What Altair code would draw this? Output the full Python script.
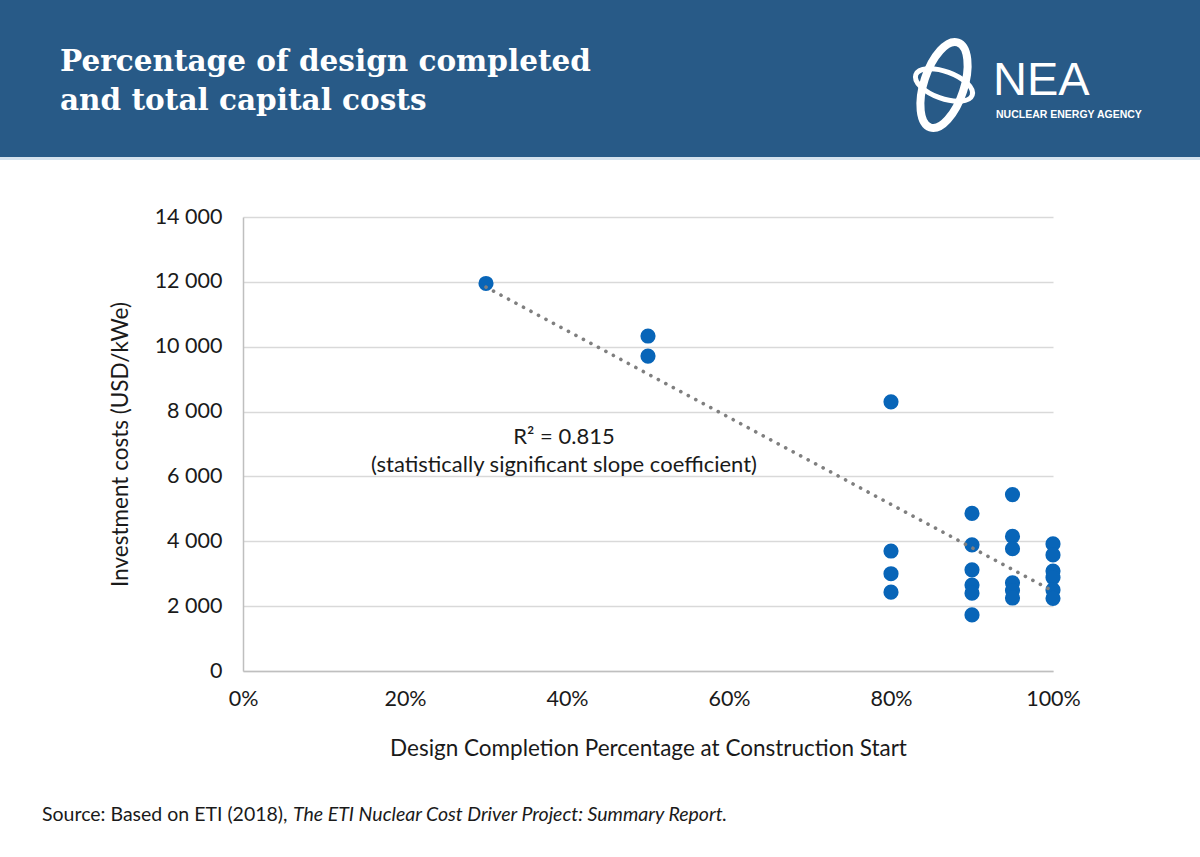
import altair as alt
import pandas as pd

# Design completion share at construction start (fraction) and investment cost (USD/kWe)
completion = [0.30,
              0.50, 0.50,
              0.80, 0.80, 0.80, 0.80,
              0.90, 0.90, 0.90, 0.90, 0.90, 0.90,
              0.95, 0.95, 0.95, 0.95, 0.95, 0.95,
              1.00, 1.00, 1.00, 1.00, 1.00, 1.00]
cost = [11950,
        10330, 9710,
        8300, 3700, 3000, 2430,
        4860, 3890, 3120, 2650, 2400, 1730,
        5440, 4150, 3770, 2720, 2480, 2250,
        3920, 3580, 3080, 2880, 2500, 2240]

y_ticks = [0, 2000, 4000, 6000, 8000, 10000, 12000, 14000]
x_ticks = [0, 0.2, 0.4, 0.6, 0.8, 1.0]

title_lines = ["Percentage of design completed", "and total capital costs"]
r2_label = "R² = 0.815"
slope_note = "(statistically significant slope coefficient)"
source_plain = "Source: Based on ETI (2018),"
source_italic = "The ETI Nuclear Cost Driver Project: Summary Report."

df = pd.DataFrame({"completion": completion, "cost": cost})
one = pd.DataFrame({"k": [0]})

FONT = "Lato"
BLUE_HEADER = "#285a87"
DOT = "#0865b8"
INK = "#1a1a1a"

# plot area geometry (page is 1200 x 857)
LEFT, TOP, W, H = 243, 217, 810, 454

x_enc = alt.X("completion:Q",
              scale=alt.Scale(domain=[0, 1], nice=False),
              axis=alt.Axis(values=x_ticks, format=".0%", title="Design Completion Percentage at Construction Start",
                            grid=False, domain=True, domainColor="#bfbfbf", domainWidth=1.5,
                            ticks=False, labelFlush=False, labelPadding=17, labelFontSize=21.5,
                            labelColor=INK, labelFont=FONT, titleFont=FONT, titleFontSize=22.5,
                            titleFontWeight="normal", titleColor=INK, titlePadding=28))
y_enc = alt.Y("cost:Q",
              scale=alt.Scale(domain=[0, 14000], nice=False),
              axis=alt.Axis(values=y_ticks, title="Investment costs (USD/kWe)",
                            labelExpr="replace(format(datum.value, ','), ',', ' ')",
                            grid=True, gridColor="#d9d9d9", gridWidth=1.5,
                            domain=True, domainColor="#bfbfbf", domainWidth=1.5,
                            ticks=False, labelPadding=21, labelFontSize=21.5, labelColor=INK,
                            labelFont=FONT, titleFont=FONT, titleFontSize=22.5, titleFontWeight="normal",
                            titleColor=INK, titlePadding=22))

# header band
header = alt.Chart(one).mark_rect(color=BLUE_HEADER).encode(
    x=alt.value(-LEFT), x2=alt.value(1200 - LEFT),
    y=alt.value(-TOP), y2=alt.value(157 - TOP))
header_edge = alt.Chart(one).mark_rect(color="#d5e2ee").encode(
    x=alt.value(-LEFT), x2=alt.value(1200 - LEFT),
    y=alt.value(157 - TOP), y2=alt.value(160 - TOP))

title1 = alt.Chart(one).mark_text(
    text=title_lines[0], font="DejaVu Serif", fontWeight="bold", fontSize=29.5,
    color="white", align="left", baseline="alphabetic").encode(
    x=alt.value(60 - LEFT), y=alt.value(71 - TOP))
title2 = alt.Chart(one).mark_text(
    text=title_lines[1], font="DejaVu Serif", fontWeight="bold", fontSize=29.5,
    color="white", align="left", baseline="alphabetic").encode(
    x=alt.value(60 - LEFT), y=alt.value(110 - TOP))

# NEA logo: interlaced orbit rings and lettering
ellipse = ("M 1 0 C 1 0.2485 0.5523 0.45 0 0.45 C -0.5523 0.45 -1 0.2485 -1 0 "
           "C -1 -0.2485 -0.5523 -0.45 0 -0.45 C 0.5523 -0.45 1 -0.2485 1 0 Z")
ring_a = alt.Chart(one).mark_point(shape=ellipse, filled=False, stroke="white",
                                   strokeWidth=8, size=8000, angle=108, opacity=1).encode(
    x=alt.value(944 - LEFT), y=alt.value(85 - TOP))
ring_b = alt.Chart(one).mark_point(shape=ellipse, filled=False, stroke="white",
                                   strokeWidth=5, size=3600, angle=20, opacity=1).encode(
    x=alt.value(944 - LEFT), y=alt.value(85 - TOP))
nea = alt.Chart(one).mark_text(
    text="NEA", font="Liberation Sans", fontSize=47, color="white",
    align="left", baseline="alphabetic").encode(
    x=alt.value(993 - LEFT), y=alt.value(95 - TOP))
nea_sub = alt.Chart(one).mark_text(
    text="NUCLEAR ENERGY AGENCY", font="Liberation Sans", fontWeight="bold",
    fontSize=10.5, color="white", align="left", baseline="alphabetic").encode(
    x=alt.value(996 - LEFT), y=alt.value(118 - TOP))

base = alt.Chart(df)

points = base.mark_circle(size=230, color=DOT, opacity=1).encode(x=x_enc, y=y_enc)

# least-squares trend over the plotted points
trend = base.transform_regression("completion", "cost").mark_line(
    color="#7f7f7f", strokeWidth=3.6, strokeDash=[0.1, 8.4], strokeCap="round").encode(
    x="completion:Q", y="cost:Q")

note1 = alt.Chart(one).mark_text(
    text=r2_label, font=FONT, fontSize=22, color=INK, align="center").encode(
    x=alt.value(564 - LEFT), y=alt.value(437 - TOP))
note2 = alt.Chart(one).mark_text(
    text=slope_note, font=FONT, fontSize=22, color=INK, align="center").encode(
    x=alt.value(564 - LEFT), y=alt.value(465 - TOP))

src1 = alt.Chart(one).mark_text(
    text=source_plain, font=FONT, fontSize=19.5, color=INK,
    align="left", baseline="middle").encode(
    x=alt.value(42 - LEFT), y=alt.value(815 - TOP))
src2 = alt.Chart(one).mark_text(
    text=source_italic, font=FONT, fontSize=19.5, fontStyle="italic", color=INK,
    align="left", baseline="middle").encode(
    x=alt.value(293 - LEFT), y=alt.value(815 - TOP))

chart = alt.layer(
    header, header_edge, title1, title2, ring_a, ring_b, nea, nea_sub,
    points, trend, note1, note2, src1, src2
).properties(
    width=W, height=H,
    padding={"left": LEFT, "top": TOP, "right": 1200 - LEFT - W, "bottom": 857 - TOP - H},
    autosize=alt.AutoSizeParams(type="none"),
    background="white"
).configure_view(stroke=None)

chart.save("out.html", embed_options={"renderer": "svg", "actions": False})
